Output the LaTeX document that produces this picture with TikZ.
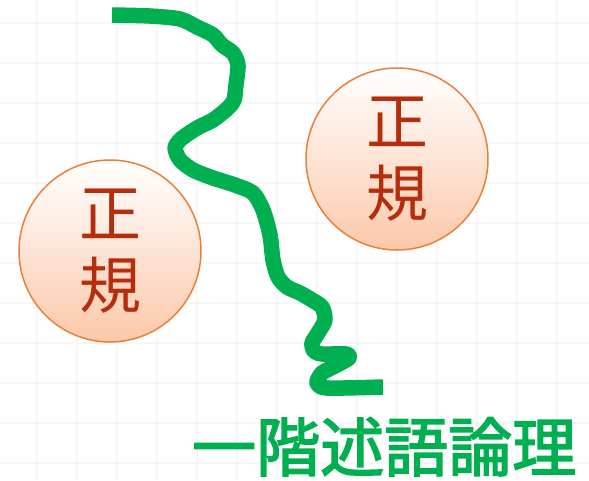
\documentclass[tikz,border=0pt]{standalone}
\usepackage{fontspec}
\newfontfamily\cjk{Noto Sans CJK JP}
\newfontfamily\cjkbold{Noto Sans CJK JP}[FakeBold=2.5]
\definecolor{gridgray}{RGB}{246,246,246}
\definecolor{seiki}{RGB}{180,46,14}
\definecolor{ringorange}{RGB}{232,128,56}
\definecolor{peach}{RGB}{252,200,170}
\definecolor{lgreen}{RGB}{0,176,80}
\tikzset{
  ball/.style={circle, draw=ringorange, line width=1.5pt, minimum size=182pt,
    top color=white, bottom color=peach, inner sep=0pt,
    text=seiki, align=center, font=\cjk\fontsize{62}{72}\selectfont},
  squiggle/.style={draw=lgreen, line width=15.5pt, line join=round, line cap=butt},
  title/.style={text=lgreen, inner sep=0pt, font=\cjkbold\fontsize{64}{64}\selectfont}
}
\begin{document}
\begin{tikzpicture}[x=1pt,y=1pt]
\useasboundingbox (0,0) rectangle (589,-480);
\fill[white] (0,0) rectangle (589,-480);
\foreach \gx in {37,77,...,597} \draw[gridgray, line width=2pt] (\gx,0) -- (\gx,-480);
\foreach \gy in {23,63,...,503} \draw[gridgray, line width=2pt] (0,-\gy) -- (589,-\gy);
\node[ball] (left) at (110,-251) {正\\規};
\node[ball] (right) at (397,-159) {正\\規};
\draw[squiggle] plot[smooth, tension=0.45] coordinates {
 (112,-15) (150,-16) (180,-19) (197,-27) (213,-35) (222,-45) (233,-53) (238,-65)
 (236,-85) (234,-100) (228,-108) (213,-120) (197,-128) (181,-139) (175,-148)
 (180,-160) (193,-170) (213,-178) (235,-185) (253,-193) (263,-210) (270,-235)
 (273,-260) (278,-277) (287,-287) (300,-293) (312,-300) (322,-307) (325,-320)
 (318,-333) (312,-343) (314,-351) (322,-354) (346,-354) (349,-358) (337,-365)
 (322,-373) (317,-383) (327,-388) (383,-387)};
\node[title, anchor=base west] (logic) at (192,-471) {一階述語論理};
\end{tikzpicture}
\end{document}
